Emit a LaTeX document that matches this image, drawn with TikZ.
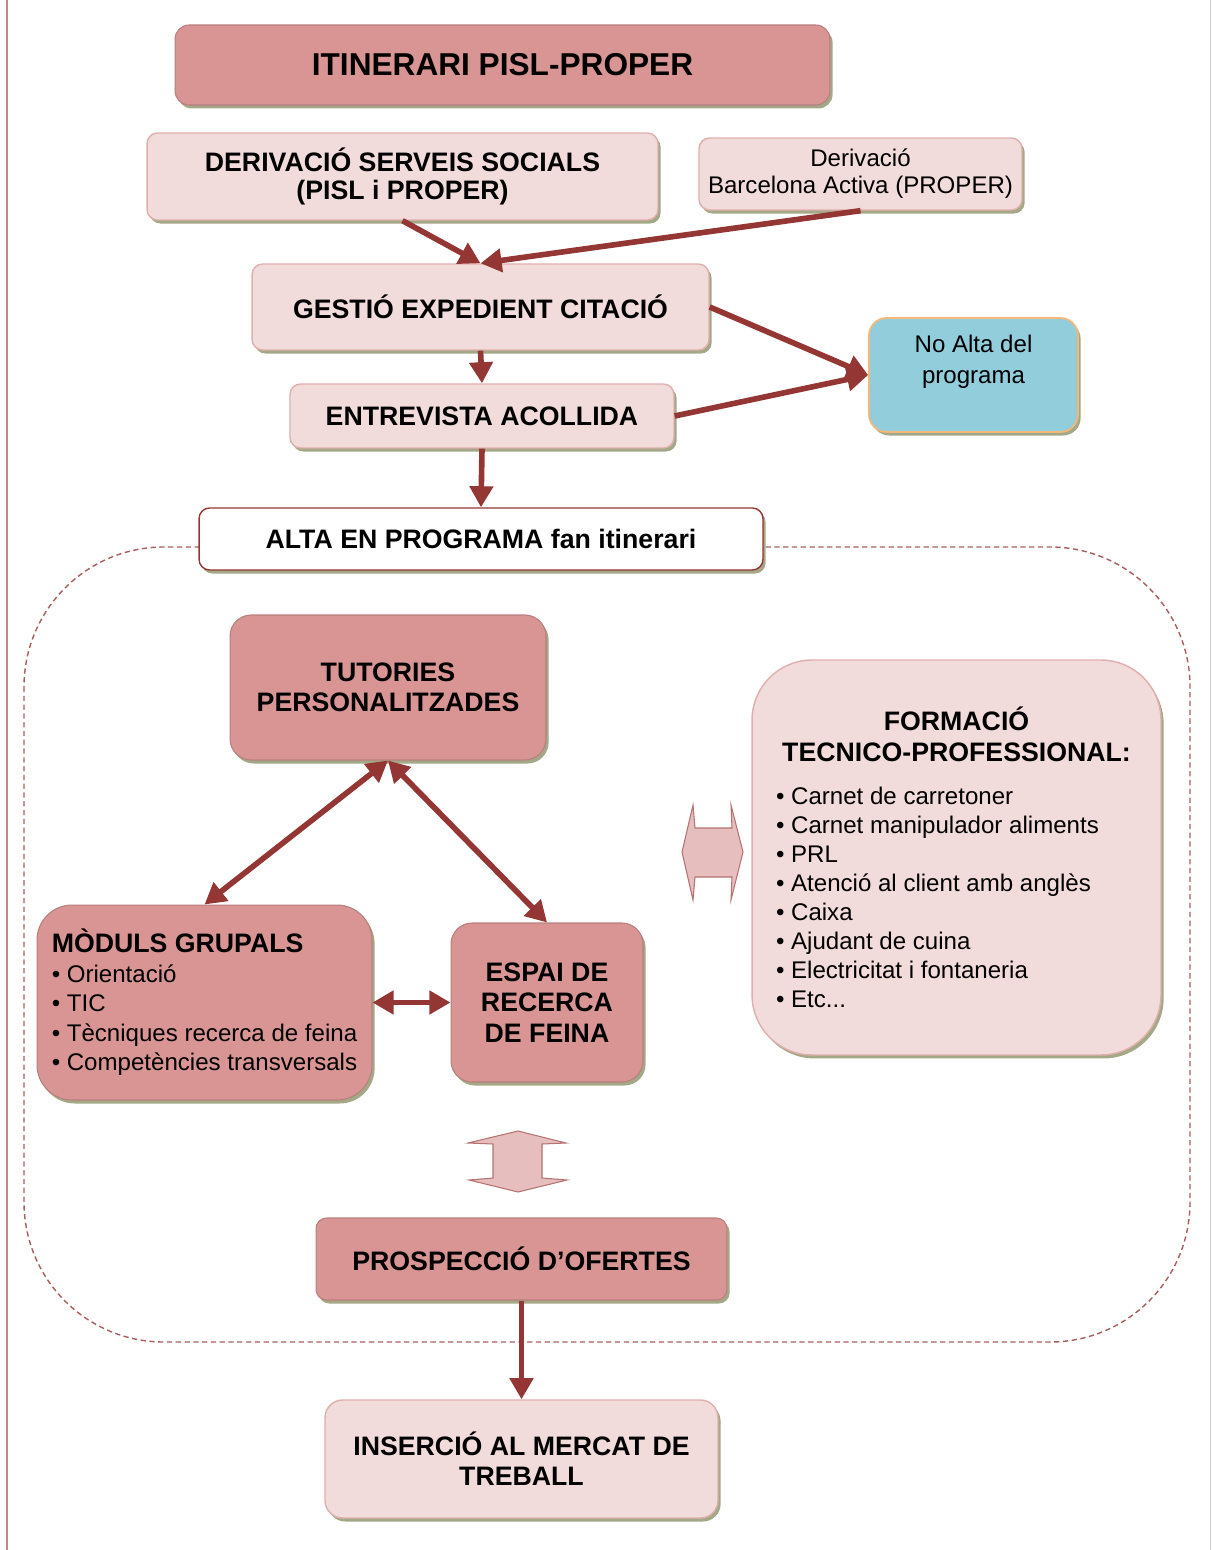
\documentclass[tikz,border=0pt]{standalone}
\usepackage{fontspec}
\setmainfont{Liberation Sans}
\usepackage{tikz}
\usetikzlibrary{arrows.meta, shadows}

\definecolor{darkpink}{HTML}{D99594}
\definecolor{lightpink}{HTML}{F2DCDB}
\definecolor{pinkline}{HTML}{E0AEAD}
\definecolor{arrowred}{HTML}{943634}
\definecolor{nobalt}{HTML}{92CDDC}
\definecolor{orangeline}{HTML}{F4B778}
\definecolor{shadowgreen}{HTML}{A3A987}

\begin{document}
\begin{tikzpicture}[
        x=0.02cm, y=-0.02cm,
        >={Triangle[length=12pt,width=13pt]},
        box/.style={rectangle, rounded corners=6pt, align=center, text=black,
            drop shadow={shadow xshift=1.5pt, shadow yshift=-2pt, fill=shadowgreen, opacity=1}},
        lightbox/.style={box, fill=lightpink, draw=pinkline, line width=0.8pt},
        darkbox/.style={box, fill=darkpink, draw=darkpink!85!black, line width=0.6pt},
        bluebox/.style={box, fill=nobalt, draw=orangeline, line width=1pt},
        whitebox/.style={box, fill=white, draw=arrowred, line width=0.8pt},
        capsfont/.style={font=\fontsize{15.2}{17.2}\selectfont\bfseries},
        plainfont/.style={font=\fontsize{13.7}{15.5}\selectfont},
        flow/.style={draw=arrowred, line width=3.2pt},
        blockarrow/.style={fill=pinkline!80!white, draw=arrowred!70!white, line width=0.6pt}
    ]

    \useasboundingbox (0,0) rectangle (1213,1550);

    % --- Page margins ---
    \draw[arrowred!60!white, line width=0.8pt] (7,0) -- (7,1550);
    \draw[black!20, line width=0.5pt] (1210,0) -- (1210,1550);

    % --- Dashed frame round the itinerary ---
    \draw[arrowred!80!white, line width=0.8pt, dash pattern=on 3pt off 2pt, rounded corners=2.8cm]
        (24,547) rectangle (1190,1342);

    % --- Top of the flow ---
    \node[darkbox, rounded corners=8pt, minimum width=13.1cm, minimum height=1.6cm,
          font=\fontsize{18}{20}\selectfont\bfseries] (title) at (502.5,65) {ITINERARI PISL-PROPER};

    \node[lightbox, capsfont, font=\fontsize{15.2}{16.4}\selectfont\bfseries, minimum width=10.22cm, minimum height=1.74cm] (ss) at (402.5,176.5)
        {DERIVACIÓ SERVEIS SOCIALS\\(PISL i PROPER)};
    \node[lightbox, plainfont, minimum width=6.46cm, minimum height=1.44cm] (ba) at (860.5,174)
        {Derivació\\Barcelona Activa (PROPER)};

    \node[lightbox, capsfont, minimum width=9.14cm, minimum height=1.72cm] (gestio) at (480.5,307)
        {GESTIÓ EXPEDIENT CITACIÓ};
    \node[lightbox, capsfont, minimum width=7.68cm, minimum height=1.28cm] (entrevista) at (482,416)
        {ENTREVISTA ACOLLIDA};
    \node[bluebox, plainfont, font=\fontsize{13.7}{18}\selectfont, rounded corners=10pt, minimum width=4.18cm, minimum height=2.28cm] (noalta) at (973.5,375)
        {No Alta del\\programa\\\mbox{}};

    \node[whitebox, capsfont, minimum width=11.28cm, minimum height=1.24cm] (alta) at (481,539)
        {ALTA EN PROGRAMA fan itinerari};

    % --- Itinerary ---
    \node[darkbox, capsfont, rounded corners=12pt, minimum width=6.32cm, minimum height=2.9cm] (tutories) at (388,687.5)
        {TUTORIES\\PERSONALITZADES};

    \node[lightbox, rounded corners=1.2cm, minimum width=8.18cm, minimum height=7.9cm, align=left,
          font=\fontsize{13.7}{16.5}\selectfont] (formacio) at (956.5,857.5)
        {\parbox{7.22cm}{{\centering\bfseries\fontsize{15.2}{17.8}\selectfont FORMACIÓ\\TECNICO-PROFESSIONAL:\par}
         \vspace{8pt}\raggedright
         \textbullet\ Carnet de carretoner\\
         \textbullet\ Carnet manipulador aliments\\
         \textbullet\ PRL\\
         \textbullet\ Atenció al client amb anglès\\
         \textbullet\ Caixa\\
         \textbullet\ Ajudant de cuina\\
         \textbullet\ Electricitat i fontaneria\\
         \textbullet\ Etc...}};

    \node[darkbox, rounded corners=0.7cm, minimum width=6.7cm, minimum height=3.9cm, align=left,
          font=\fontsize{13.7}{16.8}\selectfont] (moduls) at (204.5,1002.5)
        {{\bfseries\fontsize{15.2}{17}\selectfont MÒDULS GRUPALS}\\
         \textbullet\ Orientació\\
         \textbullet\ TIC\\
         \textbullet\ Tècniques recerca de feina\\
         \textbullet\ Competències transversals};

    \node[darkbox, capsfont, rounded corners=12pt, minimum width=3.84cm, minimum height=3.18cm] (espai) at (547,1002.5)
        {ESPAI DE\\RECERCA\\DE FEINA};

    \node[darkbox, capsfont, minimum width=8.22cm, minimum height=1.64cm] (prospeccio) at (521.5,1259)
        {PROSPECCIÓ D’OFERTES};

    \node[lightbox, capsfont, rounded corners=10pt, minimum width=7.86cm, minimum height=2.36cm] (insercio) at (521.5,1459)
        {INSERCIÓ AL MERCAT DE\\TREBALL};

    % --- Block arrows ---
    \draw[blockarrow] (682,852) -- (693,805) -- (695,828) -- (732,828) -- (731,805) -- (743,852)
        -- (731,900) -- (732,877) -- (695,877) -- (693,900) -- cycle;
    \draw[blockarrow] (518,1131) -- (566,1143) -- (542,1144) -- (542,1178) -- (567,1180) -- (518,1192)
        -- (469,1180) -- (493,1178) -- (493,1144) -- (468,1143) -- cycle;

    % --- Connectors ---
    \draw[flow, ->] (ss.south) -- (gestio.north);
    \draw[flow, ->] (ba.south) -- (gestio.north);
    \draw[flow, ->] (gestio.east) -- (noalta.west);
    \draw[flow, ->] (entrevista.east) -- (noalta.west);
    \draw[flow, ->] (gestio.south) -- (entrevista.north);
    \draw[flow, ->] (entrevista.south) -- (alta.north);

    \draw[flow, <->] (tutories.south) -- (moduls.north);
    \draw[flow, <->] (tutories.south) -- (espai.north);
    \draw[flow, <->] (moduls.east) -- (espai.west);

    \draw[flow, ->] (prospeccio.south) -- (insercio.north);

\end{tikzpicture}
\end{document}
